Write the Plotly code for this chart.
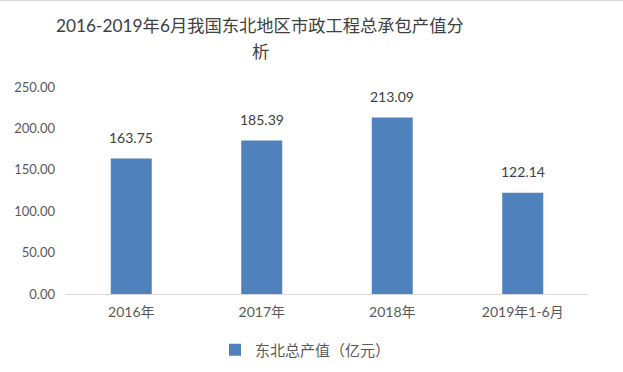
import plotly.graph_objects as go

categories = ["2016年", "2017年", "2018年", "2019年1-6月"]
values = [163.75, 185.39, 213.09, 122.14]
value_labels = ["163.75", "185.39", "213.09", "122.14"]
tick_vals = [0, 50, 100, 150, 200, 250]
tick_text = ["0.00", "50.00", "100.00", "150.00", "200.00", "250.00"]
series_name = "东北总产值（亿元）"
title_line1 = "2016-2019年6月我国东北地区市政工程总承包产值分"
title_line2 = "析"

FONT = "Lato, 'Noto Sans CJK SC', sans-serif"

fig = go.Figure()
fig.add_trace(go.Bar(
    x=categories, y=values, name=series_name,
    marker=dict(color="#4F81BD", line=dict(width=0)),
    showlegend=True,
))

for c, v, t in zip(categories, values, value_labels):
    fig.add_annotation(x=c, y=v, text=t, showarrow=False, yshift=21,
                       font=dict(family=FONT, size=14, color="#404040"))

# title (two wrapped lines, centered like the reference)
for line, yc in ((title_line1, 25), (title_line2, 52)):
    fig.add_annotation(text=line, xref="paper", yref="paper",
                       x=(260 - 66) / 522, y=(294 - yc) / 207,
                       xanchor="center", yanchor="middle", showarrow=False,
                       font=dict(family=FONT, size=17.3, color="#404040"))

fig.update_layout(
    width=623, height=372,
    margin=dict(l=66, r=35, t=87, b=78, autoexpand=False),
    paper_bgcolor="white", plot_bgcolor="white",
    bargap=0.686,
    xaxis=dict(showline=True, linecolor="#D9D9D9", linewidth=1, showgrid=False,
               ticks="", ticklabelstandoff=5,
               tickfont=dict(family=FONT, size=14, color="#595959")),
    yaxis=dict(range=[0, 250], tickvals=tick_vals, ticktext=tick_text, showgrid=False,
               zeroline=False, showline=False, ticks="", ticklabelstandoff=10,
               tickfont=dict(family=FONT, size=13, color="#595959")),
    legend=dict(orientation="h", x=(215 - 66) / 522, xanchor="left",
                y=(294 - 350) / 207, yanchor="middle",
                font=dict(family=FONT, size=15, color="#595959")),
    shapes=[dict(type="line", xref="paper", yref="paper", x0=-66/522, x1=1+35/522,
                 y0=1+86.5/207, y1=1+86.5/207, line=dict(color="#D9D9D9", width=1))],
)

fig.write_html("out.html", config={"displayModeBar": False},
               post_script="document.body.style.margin='0';")
